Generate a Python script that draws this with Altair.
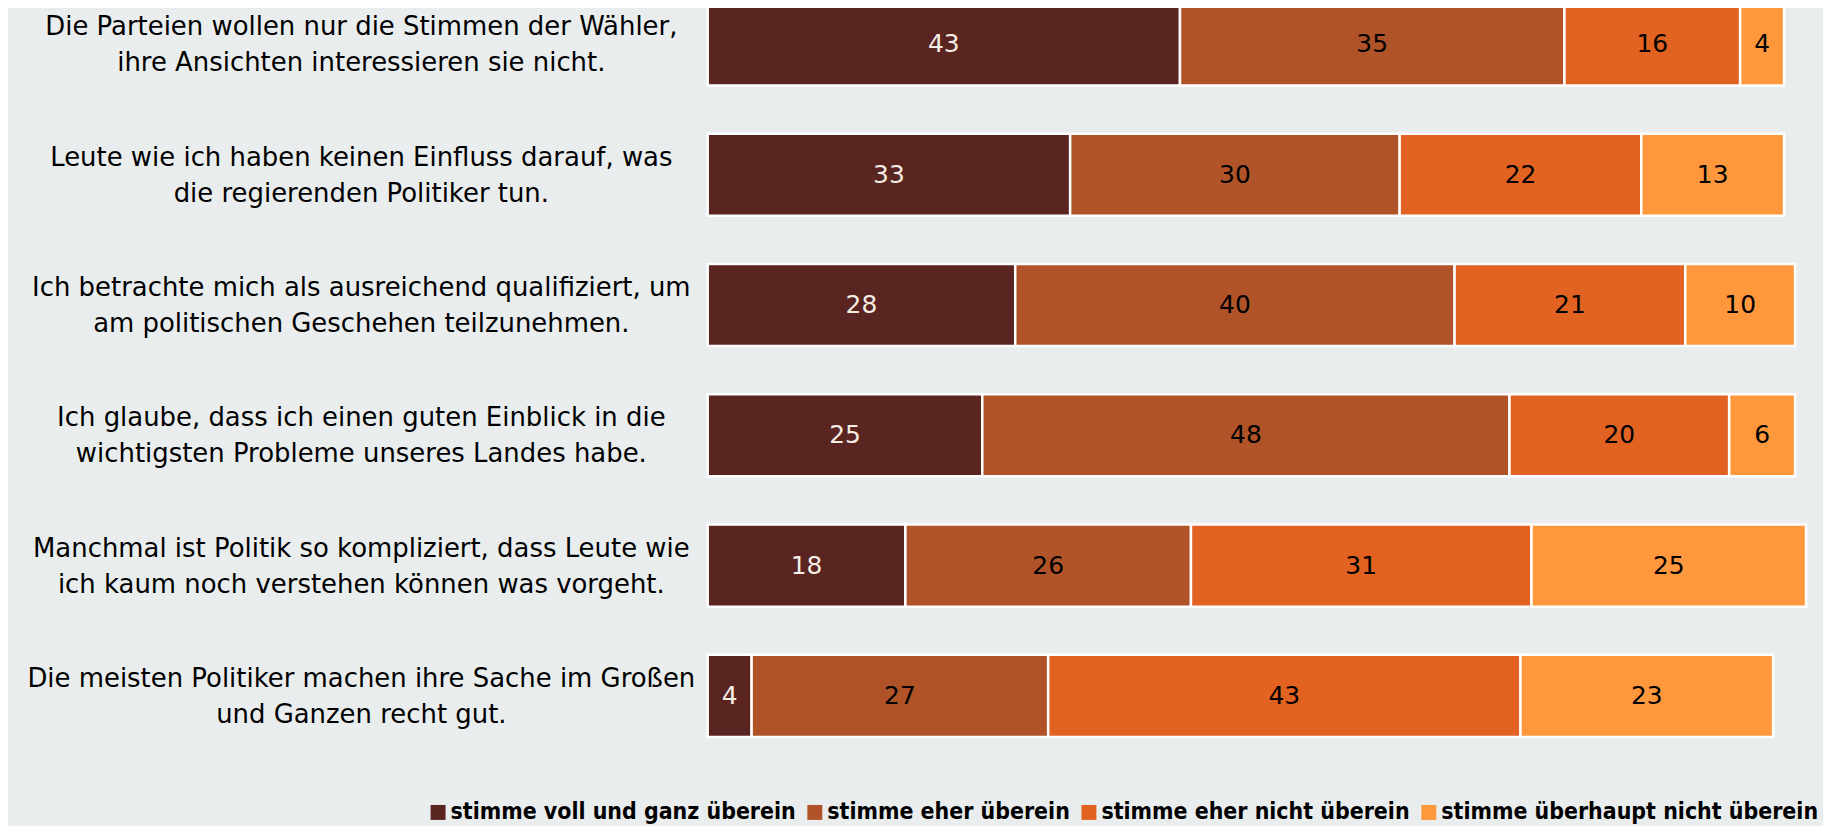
import altair as alt
import pandas as pd

questions = [
    "Die Parteien wollen nur die Stimmen der Wähler,|ihre Ansichten interessieren sie nicht.",
    "Leute wie ich haben keinen Einfluss darauf, was|die regierenden Politiker tun.",
    "Ich betrachte mich als ausreichend qualifiziert, um|am politischen Geschehen teilzunehmen.",
    "Ich glaube, dass ich einen guten Einblick in die|wichtigsten Probleme unseres Landes habe.",
    "Manchmal ist Politik so kompliziert, dass Leute wie|ich kaum noch verstehen können was vorgeht.",
    "Die meisten Politiker machen ihre Sache im Großen|und Ganzen recht gut.",
]
categories = [
    "stimme voll und ganz überein",
    "stimme eher überein",
    "stimme eher nicht überein",
    "stimme überhaupt nicht überein",
]
voll_und_ganz = [43, 33, 28, 25, 18, 4]
eher = [35, 30, 40, 48, 26, 27]
eher_nicht = [16, 22, 21, 20, 31, 43]
ueberhaupt_nicht = [4, 13, 10, 6, 25, 23]
colors = ["#5A2420", "#B05328", "#E26221", "#FF983C"]

series = [voll_und_ganz, eher, eher_nicht, ueberhaupt_nicht]
rows = []
for qi, q in enumerate(questions):
    for ci, cat in enumerate(categories):
        rows.append({"q": q, "cat": cat, "ord": ci, "value": series[ci][qi]})
df = pd.DataFrame(rows)

base = alt.Chart(df).transform_stack(
    stack="value", groupby=["q"], sort=[alt.SortField("ord", order="ascending")], as_=["x0", "x1"]
).transform_calculate(mid="(datum.x0 + datum.x1) / 2")

xscale = alt.Scale(domain=[0, 100], nice=False, zero=True)

y = alt.Y(
    "q:N",
    sort=questions,
    title=None,
    scale=alt.Scale(range=[-6, 730], paddingInner=0.37, paddingOuter=0),
    axis=alt.Axis(
        title=None, domain=False, ticks=False, tickSize=0,
        labelAlign="center", labelBaseline="middle", labelPadding=348,
        labelOffset=-17,
        labelLimit=900, labelFont="DejaVu Sans", labelFontSize=26,
        labelLineHeight=36, labelColor="#000000",
        labelExpr="split(datum.label, '|')", labelOverlap=False,
    ),
)

bars = base.mark_bar(stroke="white", strokeWidth=2.5).encode(
    x=alt.X("x0:Q", scale=xscale, axis=None),
    x2="x1:Q",
    y=y,
    color=alt.Color(
        "cat:N",
        scale=alt.Scale(domain=categories, range=colors),
        legend=alt.Legend(
            title=None, orient="none", legendX=-282, legendY=794,
            direction="horizontal", symbolType="square", symbolSize=225,
            symbolStrokeWidth=0, symbolOpacity=1,
            labelFont="DejaVu Sans Condensed", labelFontWeight="bold",
            labelFontSize=23, labelColor="#000000", labelLimit=500,
            columnPadding=7, labelOffset=1, padding=0,
        ),
    ),
)

text = base.mark_text(font="DejaVu Sans", fontSize=25, baseline="middle").encode(
    x=alt.X("mid:Q", scale=xscale, axis=None),
    y=y,
    text="value:Q",
    color=alt.condition("datum.ord == 0", alt.value("#F4EDE4"), alt.value("#000000")),
)

chart = alt.layer(bars, text).properties(
    width=1102,
    height=730,
    autosize=alt.AutoSizeParams(type="none"),
    padding={"left": 702, "top": 0, "right": 17, "bottom": 88},
    background="#E9EDED",
).configure_view(stroke=None)

chart.save("out.html", embed_options={"renderer": "svg", "actions": False})
